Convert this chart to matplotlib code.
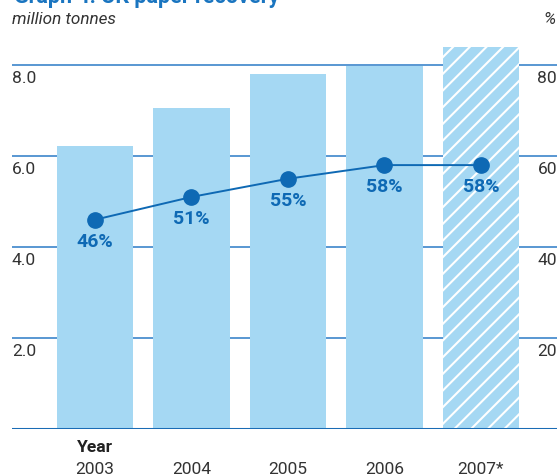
import matplotlib
matplotlib.use("Agg")
import matplotlib.pyplot as plt
import matplotlib.transforms as mtransforms

plt.rcParams['font.family'] = ['Roboto', 'DejaVu Sans']
plt.rcParams['hatch.linewidth'] = 1.5

# Data
years = ["2003", "2004", "2005", "2006", "2007*"]
tonnes = [6.22, 7.05, 7.80, 7.98, 8.40]          # million tonnes (bars)
recovery_pct = [46, 51, 55, 58, 58]               # % recovery (line)
left_ticks = [2.0, 4.0, 6.0, 8.0]
left_labels = ["2.0", "4.0", "6.0", "8.0"]
right_labels = ["20", "40", "60", "80"]
title = "Graph 4: UK paper recovery"
left_unit = "million tonnes"
right_unit = "%"
year_header = "Year"

BAR = "#a5d8f3"
BLUE = "#0e69b4"
GRID = "#4b8fcf"
TXT = "#333333"

W, H = 557, 475
fig = plt.figure(figsize=(W / 100, H / 100), dpi=100)
ax_left, ax_bottom, ax_w, ax_h = 12, 46, 545, 405.5
ax = fig.add_axes([ax_left / W, ax_bottom / H, ax_w / W, ax_h / H])

spacing = 96.5
x0 = 95
ax.set_xlim((12 - x0) / spacing, (557 - x0) / spacing)
ax.set_ylim(0, ax_h / 45.5)
ax.axis('off')

xs = list(range(len(years)))
for i, (x, v) in enumerate(zip(xs, tonnes)):
    if i == len(xs) - 1:
        ax.bar(x, v, width=0.79, color=BAR, edgecolor='white', linewidth=0,
               hatch='//', zorder=2)
    else:
        ax.bar(x, v, width=0.79, color=BAR, linewidth=0, zorder=2)

for t in left_ticks:
    ax.axhline(t, color=GRID, lw=1.3, zorder=1)
ax.axhline(0, color="#1a6cb5", lw=2.2, zorder=3)

trans = mtransforms.blended_transform_factory(ax.transAxes, ax.transData)
for t, ll, rl in zip(left_ticks, left_labels, right_labels):
    ax.annotate(ll, (0, t), xycoords=trans, xytext=(0, -4), textcoords='offset points',
                ha='left', va='top', fontsize=12.5, color=TXT)
    ax.annotate(rl, (1, t), xycoords=trans, xytext=(0, -4), textcoords='offset points',
                ha='right', va='top', fontsize=12.5, color=TXT)

pct_y = [p / 10 for p in recovery_pct]
ax.plot(xs, pct_y, color=BLUE, lw=1.4, marker='o', markersize=11, zorder=4)
for x, y, p in zip(xs, pct_y, recovery_pct):
    ax.annotate(f"{p}%", (x, y), xytext=(0, -16), textcoords='offset points',
                ha='center', va='center', fontsize=14, fontweight='bold', color=BLUE, zorder=5)

xt = mtransforms.blended_transform_factory(ax.transData, fig.transFigure)
for x, yl in zip(xs, years):
    ax.text(x, 1 - 469 / H, yl, transform=xt, ha='center', va='center',
            fontsize=12.5, color=TXT)
ax.text(xs[0], 1 - 447 / H, year_header, transform=xt, ha='center', va='center',
        fontsize=12.5, fontweight='bold', color="#222222")

fig.text(14 / W, 1 - 3 / H, title, ha='left', va='baseline', fontsize=15.5,
         fontweight='bold', color="#1a75c0")
fig.text(12 / W, 1 - 19 / H, left_unit, ha='left', va='center', fontsize=12.3,
         style='italic', color=TXT)
fig.text(1 - 1 / W, 1 - 19 / H, right_unit, ha='right', va='center', fontsize=12.3,
         style='italic', color=TXT)

fig.savefig("out.png", dpi=100)
